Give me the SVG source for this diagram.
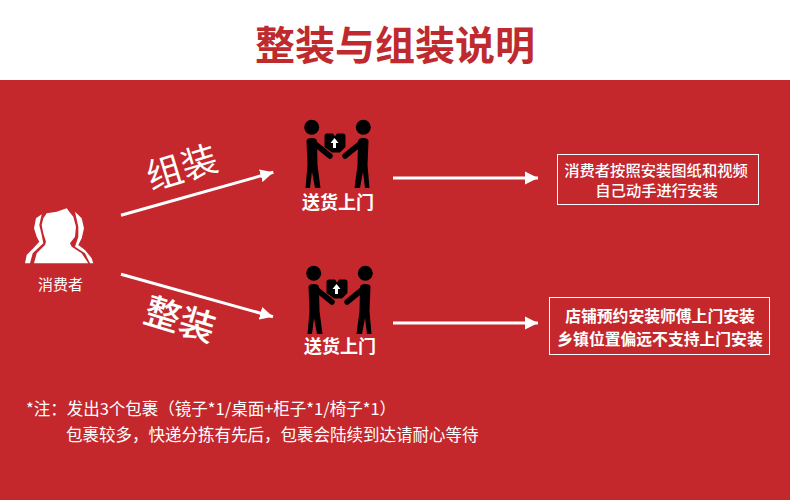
<svg xmlns="http://www.w3.org/2000/svg" width="790" height="500" viewBox="0 0 790 500">
<style>
text{font-family:"Noto Sans CJK SC","Noto Sans",sans-serif;fill:#fff;text-anchor:middle}
.box{fill:none;stroke:#fff;stroke-width:1}
.b{fill:#000}
.arm{stroke:#000;stroke-width:5.500;fill:none;stroke-linecap:round}
.cn{stroke:#fff;stroke-width:3;fill:none;marker-end:url(#ah)}
.note{font-size:16.500px;text-anchor:start;font-weight:400}
</style>
<defs>
<marker id="ah" markerUnits="userSpaceOnUse" markerWidth="14" markerHeight="14" refX="13" refY="7" orient="auto"><path d="M0 0.500L13 7L0 13.500Z" fill="#fff"/></marker>
<g id="hand">
<circle cx="311.700" cy="127.300" r="7.500" class="b"/>
<circle cx="363.300" cy="127.300" r="7.500" class="b"/>
<path class="arm" d="M314 143L330 156M361 143L345 156"/>
<path class="b" d="M306.500 141Q306.500 138 312 138Q316.500 138 317 141L317.500 165L320.500 188H315L312 172L310 188H305.500L307.500 165Z"/>
<path class="b" d="M368.500 141Q368.500 138 363 138Q358.500 138 358 141L357.500 165L354.500 188H360L363 172L365 188H369.500L367.500 165Z"/>
<path class="b" d="M327 133.500H333L335 136.500L337 133.500H343Q345.500 133.500 345.500 136V147L340 152.500H332L324.500 147V136Q324.500 133.500 327 133.500Z"/>
<path fill="#fff" d="M334.500 138L338.500 143H336V148H333V143H330.500Z"/>
</g>
</defs>
<rect width="790" height="500" fill="#c4282d"/>
<rect id="header" width="790" height="80" fill="#fff"/>
<text x="395" y="60" font-size="40" font-weight="700" style="fill:#bf2a2e">整装与组装说明</text>

<g id="consumer">
<path fill="#fff" d="M41.700 214.300L36 218.300L34 228.300L36.700 236.700L39.300 241.700L33.300 248.300L26.700 255L25 263.300H30L32.700 253.300L43.300 243.300L41.700 235L39.300 225Z"/>
<path fill="#fff" d="M75 211.700L81.700 218.300L84 228.300L81.700 238.300L78.300 245L85 250L91.700 258.300L93.300 263.300H90L85 253.300L75 246.700L78.300 236.700L78.300 226.700Z"/>
<path fill="#fff" d="M43.300 218.300L46.700 213.300L56.700 211.700L66.700 208.300L69.300 211.700L73.300 216.700L76 226.700L75 236.700L70 243.300L71.700 246.700L81.700 253.300L88.300 263.300H34L36.700 253.300L45 245L46 241.700L43.300 233.300L41.700 225Z"/>
<text x="60.500" y="290" font-size="15">消费者</text>
</g>
<g id="n-deliver-1">
<use href="#hand"/>
<text x="338" y="209" font-size="18" font-weight="700">送货上门</text>
</g>
<g id="n-deliver-2">
<use href="#hand" x="2" y="146"/>
<text x="340" y="353" font-size="18" font-weight="700">送货上门</text>
</g>
<g id="n-self">
<rect class="box" x="557.500" y="154.500" width="201" height="50"/>
<text x="656" y="176" font-size="15.300" font-weight="500">消费者按照安装图纸和视频</text>
<text x="656.500" y="196" font-size="15.300" font-weight="500">自己动手进行安装</text>
</g>
<g id="n-shop">
<rect class="box" x="549.500" y="297.500" width="220" height="57"/>
<text x="660" y="322" font-size="15.800" font-weight="700">店铺预约安装师傅上门安装</text>
<text x="660" y="345" font-size="15.800" font-weight="700">乡镇位置偏远不支持上门安装</text>
</g>
<g id="connectors">
<path class="cn" d="M121 215.300L273.300 172.300"/>
<path class="cn" d="M121 274.300L273 316.700"/>
<path class="cn" d="M393 178H538"/>
<path class="cn" d="M393 323H538"/>
</g>
<text transform="translate(185.700 180) rotate(-17)" font-size="36" font-weight="400">组装</text>
<text transform="translate(176.300 332) rotate(17)" font-size="36" font-weight="500">整装</text>
<text x="26" y="415" class="note">*注：发出3个包裹（镜子*1/桌面+柜子*1/椅子*1）</text>
<text x="66" y="441" class="note">包裹较多，快递分拣有先后，包裹会陆续到达请耐心等待</text>
</svg>
